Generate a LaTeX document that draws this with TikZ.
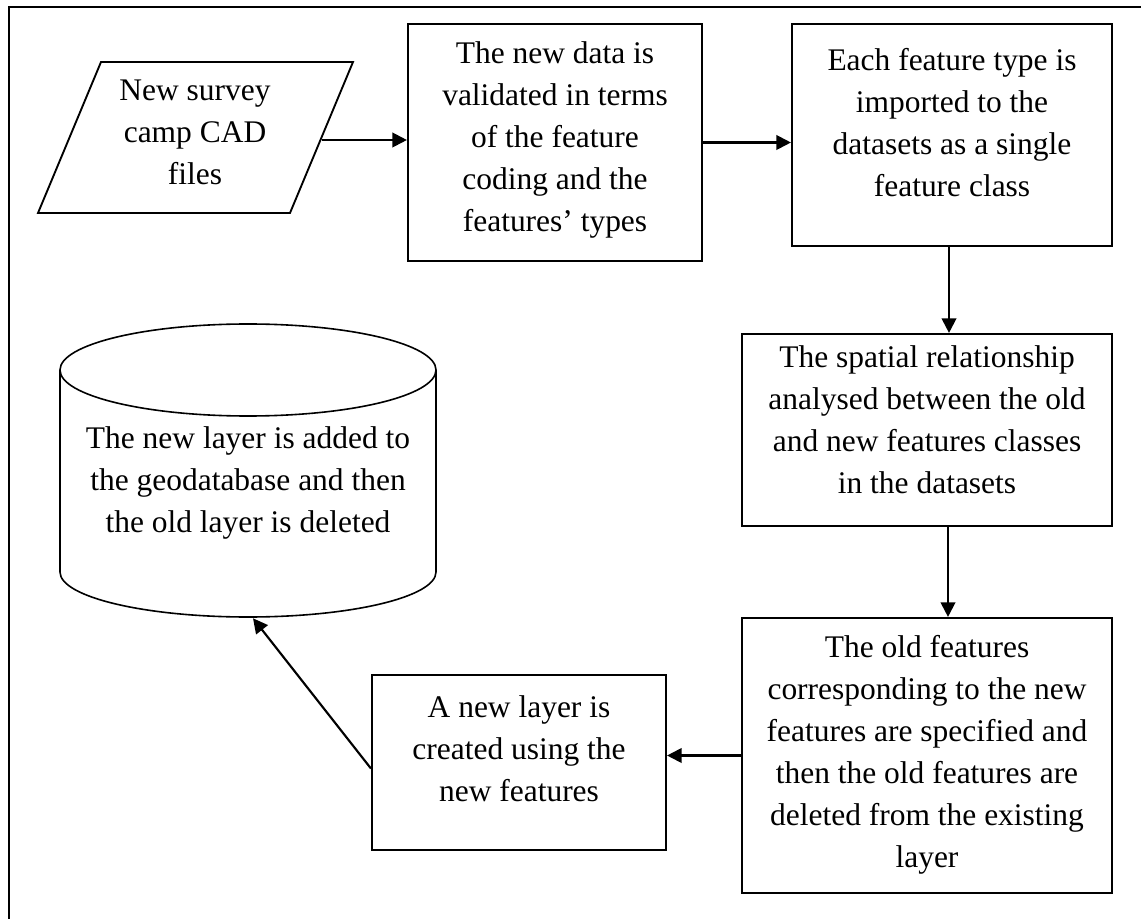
\documentclass[tikz,border=0pt]{standalone}
\usepackage{fontspec}
\setmainfont{Liberation Serif}
\usetikzlibrary{arrows.meta,calc}
\begin{document}
\begin{tikzpicture}[x=0.75pt,y=-0.75pt,
  boxshape/.style={draw,line width=1.6pt,inner sep=0pt},
  txt/.style={align=center,inner sep=0pt,font=\fontsize{23.6pt}{31.5pt}\selectfont},
  conn/.style={line width=1.6pt,-{Triangle[length=11pt,width=11pt]}},
  cylline/.style={line width=1.2pt}]
\useasboundingbox (0,0) rectangle (1141,919);
\fill[white] (0,0) rectangle (1141,919);
% outer frame (only left and top visible)
\draw[line width=1.5pt] (9,919) -- (9,7) -- (1141,7);

% input parallelogram
\draw[line width=1.4pt, line join=miter] (101,62) -- (353,62) -- (290,213) -- (38,213) -- cycle;
\coordinate (pr) at (321.5,140);
\node[txt] (parat) at (195,132) {New survey\\camp CAD\\files};

% process boxes
\node[boxshape, minimum width=220.5pt, minimum height=177.75pt] (b1) at (555,142.5) {};
\node[txt] (b1t) at (555,139.5) {The new data is\\validated in terms\\of the feature\\coding and the\\features’ types};

\node[boxshape, minimum width=240pt, minimum height=166.5pt] (b2) at (952,135) {};
\node[txt] (b2t) at (952,123) {Each feature type is\\imported to the\\datasets as a single\\feature class};

\node[boxshape, minimum width=277.5pt, minimum height=144pt] (b3) at (927,430) {};
\node[txt] (b3t) at (927,420) {The spatial relationship\\analysed between the old\\and new features classes\\in the datasets};

\node[boxshape, minimum width=277.5pt, minimum height=206.25pt] (b4) at (927,755.5) {};
\node[txt] (b4t) at (927,755) {The old features\\corresponding to the new\\features are specified and\\then the old features are\\deleted from the existing\\layer};

\node[boxshape, minimum width=220.5pt, minimum height=131.25pt] (b5) at (519,762.5) {};
\node[txt] (b5t) at (519,749) {A new layer is\\created using the\\new features};

% database cylinder
\node[inner sep=0pt, minimum width=282pt, minimum height=219.75pt] (cyl) at (248,470.5) {};
\draw[cylline] (248,370) ellipse [x radius=141pt, y radius=34.5pt];
\draw[cylline] (60,370) -- (60,572) arc[start angle=180, end angle=360, x radius=141pt, y radius=33.75pt] -- (436,370);
\node[txt] (cylt) at (248,483) {The new layer is added to\\the geodatabase and then\\the old layer is deleted};

% connectors
\coordinate (c2) at ($(b2.south)+(-3,0)$);
\coordinate (c3) at ($(b3.south)+(21,0)$);
\draw[conn] (pr) -- (pr -| b1.west);
\draw[conn] (b1.east) -- (b1.east -| b2.west);
\draw[conn] (c2) -- (c2 |- b3.north);
\draw[conn] (c3) -- (c3 |- b4.north);
\draw[conn] (b4.west) -- (b4.west -| b5.east);
\draw[conn] ($(b5.west)+(0,6)$) -- ($(cyl.south)+(5,1)$);
\end{tikzpicture}
\end{document}
